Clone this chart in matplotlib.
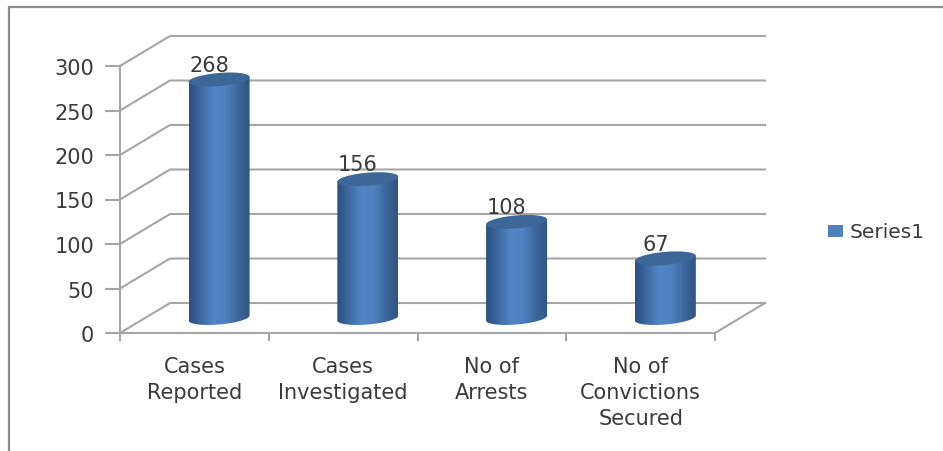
#!/usr/bin/env python3
import numpy as np
import matplotlib
matplotlib.use('Agg')
import matplotlib.pyplot as plt
from matplotlib.colors import LinearSegmentedColormap
from matplotlib.patches import Polygon, Rectangle

categories = ['Cases\nReported', 'Cases\nInvestigated', 'No of\nArrests', 'No of\nConvictions\nSecured']
values = [268, 156, 108, 67]
y_ticks = [0, 50, 100, 150, 200, 250, 300]
series_name = 'Series1'

W, H = 943, 452
X0, STEP = 120, 148.75   # pixel of category edge 0, pixels per category
Y0, PX_PER_UNIT = 334, 0.89
DX = 50 / STEP           # depth of the 3D box, in data units
DY = 30 / PX_PER_UNIT
GRID = '#a6a6a6'
TEXT = '#3a3a3a'
FONT = 'DejaVu Sans'

fig = plt.figure(figsize=(W / 100, H / 100), dpi=100)
ax = fig.add_axes([0, 0, 1, 1])
ax.set_xlim(-X0 / STEP, (W - X0) / STEP)
ax.set_ylim((Y0 - H) / PX_PER_UNIT, Y0 / PX_PER_UNIT)
ax.axis('off')


def px(x, y):
    return (x - X0) / STEP, (Y0 - y) / PX_PER_UNIT


# outer frame, cropped by the screenshot on the right and at the bottom
fx, fy = zip(*[px(9, 452), px(9, 8), px(943, 8)])
ax.plot(fx, fy, color='#8c8c8c', lw=1.6, solid_joinstyle='miter')

n = len(categories)

# walls and floor
for t in y_ticks:
    ax.plot([0, DX, n + DX], [t, t + DY, t + DY], color=GRID, lw=1.5)
    ax.plot([-14 / STEP, 0], [t, t], color=GRID, lw=1.5)
    ax.text(-26 / STEP, t - 2 / PX_PER_UNIT, str(t), ha='right', va='center', fontsize=15, color=TEXT, family=FONT)
ax.plot([0, 0], [0, y_ticks[-1]], color=GRID, lw=1.5)
ax.plot([0, n], [0, 0], color=GRID, lw=1.5)
ax.plot([n, n + DX], [0, DY], color=GRID, lw=1.5)
for i in range(n + 1):
    ax.plot([i, i], [0, -7 / PX_PER_UNIT], color=GRID, lw=1.5)

# cylinders
cmap = LinearSegmentedColormap.from_list('cyl', ['#2c5080', '#3f6ba3', '#5285c6', '#4f80bf', '#3d689e', '#30557f'])
half_w = 30.5 / STEP
rad_y = 6.5 / PX_PER_UNIT
tilt = 2.5 / PX_PER_UNIT
t = np.linspace(0, 2 * np.pi, 121)
for i, v in enumerate(values):
    cx = i + 0.5 + DX / 2 - 0.002
    base = DY / 2
    top = v + DY / 2
    ex = half_w * np.cos(t)
    ey = rad_y * np.sin(t) + tilt * np.cos(t)
    lower = t[t >= np.pi]
    lx = half_w * np.cos(lower)
    ly = rad_y * np.sin(lower) + tilt * np.cos(lower)
    body = np.vstack([
        [cx - half_w, top - tilt],
        np.column_stack([cx + lx, base + ly]),
        [cx + half_w, top + tilt],
    ])
    patch = Polygon(body, closed=True, fc='none', ec='none')
    ax.add_patch(patch)
    im = ax.imshow(np.linspace(0, 1, 128)[None, :], cmap=cmap, aspect='auto', zorder=3,
                   extent=[cx - half_w, cx + half_w, base - 2 * rad_y, top + rad_y])
    im.set_clip_path(patch)
    ax.add_patch(Polygon(np.column_stack([cx + ex, top + ey]), closed=True, fc='#3c6797', ec='none', zorder=4))
    ax.text(cx - 10 / STEP, top + rad_y - 2, str(v), ha='center', va='bottom', fontsize=15, color=TEXT,
            family=FONT, zorder=5)

ax.set_xlim(-X0 / STEP, (W - X0) / STEP)
ax.set_ylim((Y0 - H) / PX_PER_UNIT, Y0 / PX_PER_UNIT)

# category labels
for i, lab in enumerate(categories):
    ax.text(i + 0.5, -23 / PX_PER_UNIT, lab, ha='center', va='top', fontsize=15, color=TEXT,
            family=FONT, linespacing=1.38)

# legend
lx0, ly0 = px(828, 238)
ax.add_patch(Rectangle((lx0, ly0), 15 / STEP, 12 / PX_PER_UNIT, fc='#4f81bd', ec='none'))
ax.text(*px(850, 232), series_name, ha='left', va='center', fontsize=14.5, color=TEXT, family=FONT)

fig.savefig('out.png', dpi=100)
